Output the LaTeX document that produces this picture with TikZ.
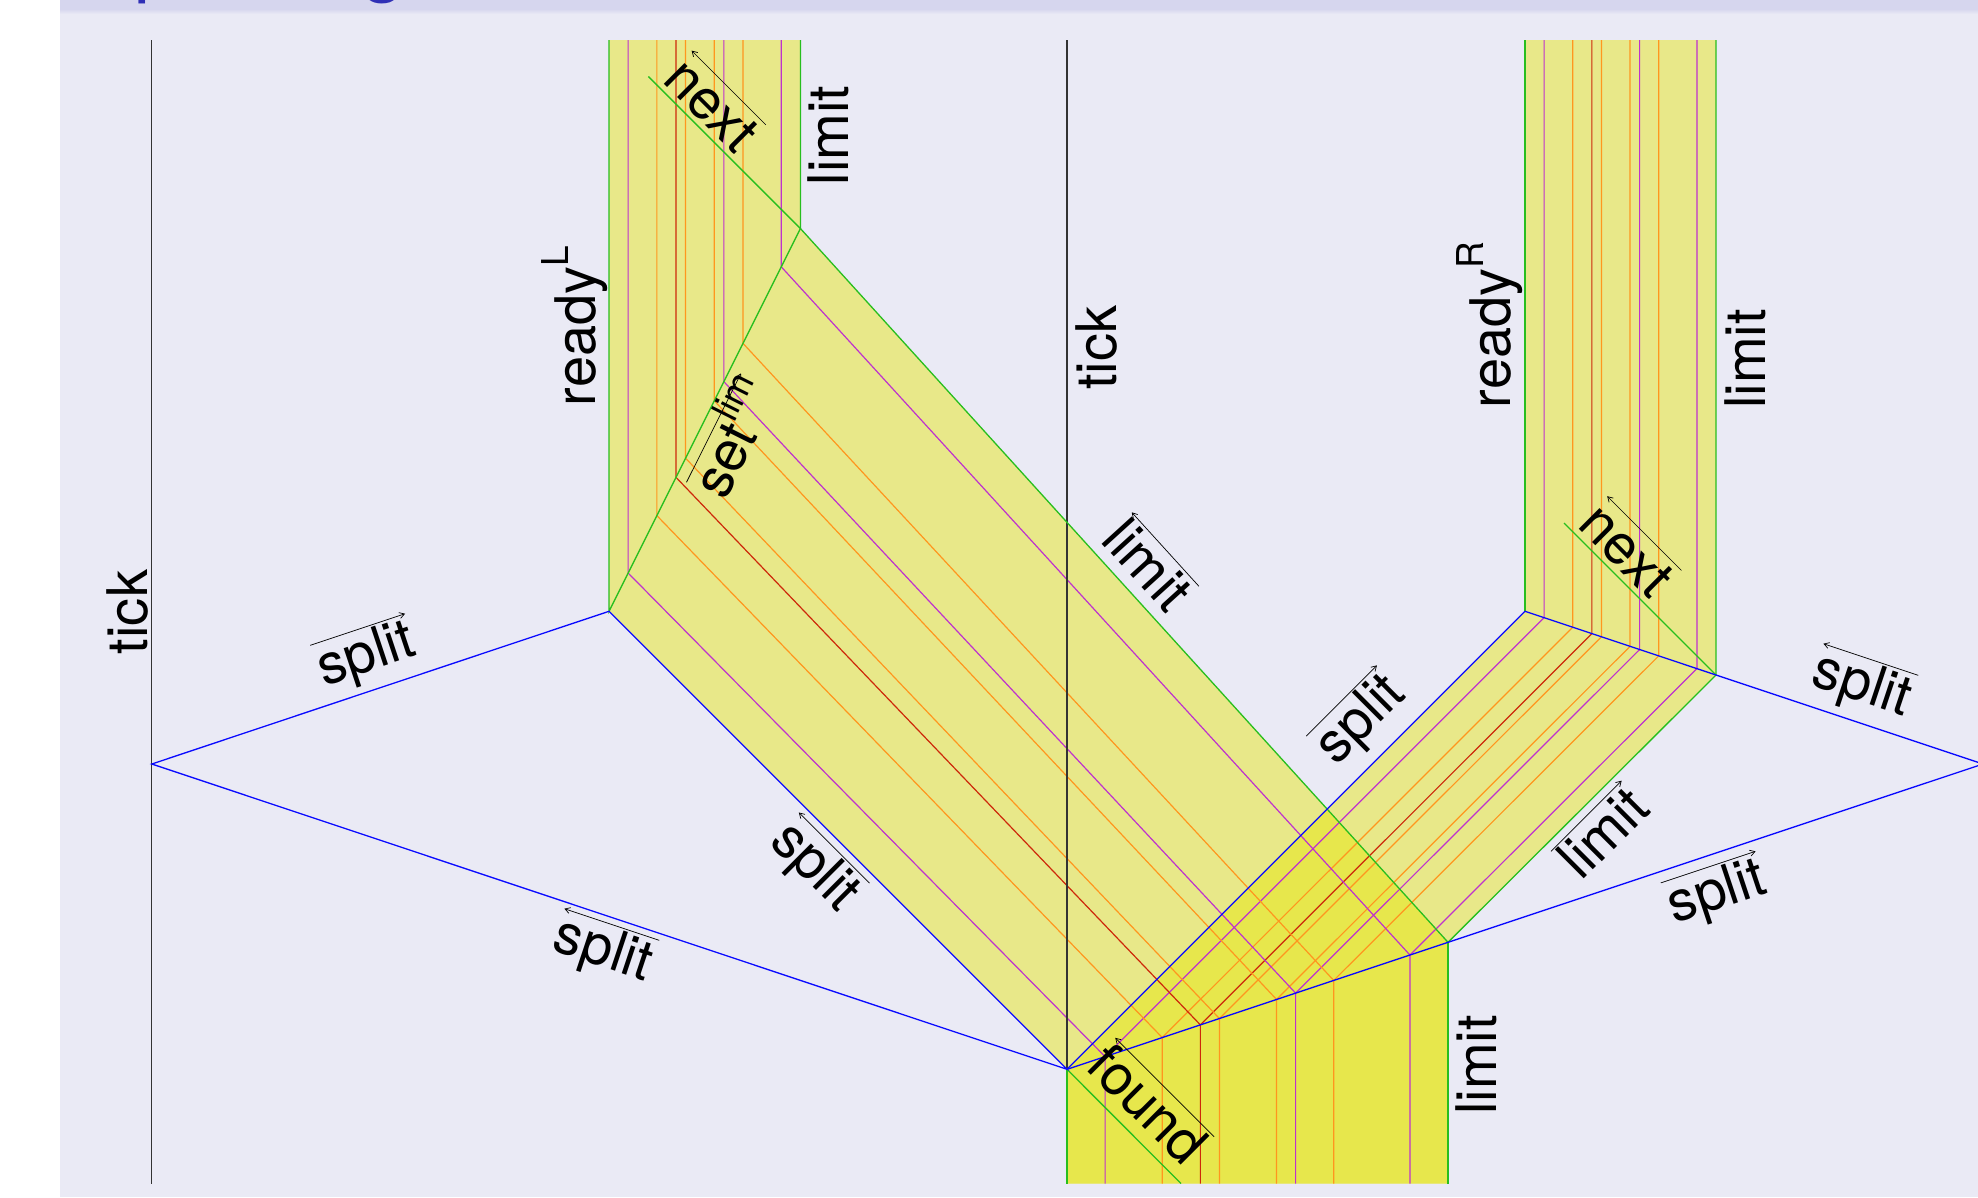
\documentclass[tikz,border=0pt]{standalone}
\usepackage{fontspec}
\setmainfont{TeX Gyre Heros}
\usetikzlibrary{calc,arrows.meta}
\definecolor{bgc}{RGB}{234,234,245}
\definecolor{barc}{RGB}{214,214,238}
\definecolor{ttl}{RGB}{48,48,182}
\definecolor{bandc}{RGB}{230,230,0}
\definecolor{grn}{RGB}{40,190,30}
\definecolor{blu}{RGB}{10,10,255}
\definecolor{mag}{RGB}{190,50,205}
\definecolor{org}{RGB}{255,150,30}
\definecolor{rdc}{RGB}{205,40,10}
\newcommand\rsup[1]{\raisebox{27pt}{\fontsize{37}{40}\selectfont #1}}
\tikzset{
  sig/.style={line width=1.2pt},
  bl/.style={draw=blu,line width=1.3pt},
  gr/.style={draw=grn,line width=1.3pt},
  tickline/.style={draw=black!80,line width=1.1pt},
  band/.style={fill=bandc,fill opacity=0.44},
  lab/.style={font=\fontsize{56}{67}\selectfont,inner sep=0pt,text height=43pt,text depth=12pt},
  vlab/.style={font=\fontsize{56}{67}\selectfont,inner sep=0pt,anchor=base,rotate=90},
  arr/.style={draw=black,line width=0.7pt},
  rarr/.style={arr,-{Straight Barb[length=5pt,width=6pt]}},
  larr/.style={arr,{Straight Barb[length=5pt,width=6pt]}-},
}
\begin{document}
\begin{tikzpicture}[x=1pt,y=-1pt]
\useasboundingbox (0,0) rectangle (1978,1197);
\clip (0,0) rectangle (1978,1197);
% background
\fill[white] (0,0) rectangle (1978,1197);
\fill[bgc] (60,0) rectangle (1978,1197);
\fill[barc] (60,0) rectangle (1978,9);
\shade[top color=barc,bottom color=bgc] (60,9) rectangle (1978,14);
\node[font=\fontsize{80}{90}\selectfont,text=ttl,inner sep=0pt,anchor=base west] (tp) at (134.5,-13.5) {p};
\node[font=\fontsize{80}{90}\selectfont,text=ttl,inner sep=0pt,anchor=base west] (tg) at (361.5,-13.5) {g};
% key points
\coordinate (L) at (151.8,764);
\coordinate (A) at (609,611.3);
\coordinate (V) at (1067,1069.3);
\coordinate (B) at (1525,611.3);
\coordinate (R) at (1983,764);
\coordinate (D) at (800.4,228.5);
\coordinate (E) at (1716,675);
\coordinate (C) at (1448,942.3);
\coordinate (TL) at (609,40);
\coordinate (TLr) at (800.4,40);
\coordinate (TR) at (1525,40);
\coordinate (TRr) at (1716,40);
\coordinate (BL) at (1067,1183.5);
\coordinate (BR) at (1448,1183.5);
\coordinate (NL) at (648.4,76.5);
\coordinate (NR) at (1564,523);
\coordinate (FE) at (1181,1183.5);
% bands
\fill[band] (TL) -- (TLr) -- (D) -- (C) -- (BR) -- (BL) -- (V) -- (A) -- cycle;
\fill[band] (TR) -- (TRr) -- (E) -- (C) -- (BR) -- (BL) -- (V) -- (B) -- cycle;
% signals
\foreach \f/\c in {0.1/mag,0.25/org,0.35/rdc,0.4/org,0.55/org,0.6/mag,0.7/org,0.9/mag}{
  \draw[sig,draw=\c] ($(TL)!\f!(TLr)$) -- ($(A)!\f!(D)$) -- ($(V)!\f!(C)$) -- ($(BL)!\f!(BR)$);
  \draw[sig,draw=\c] ($(TR)!\f!(TRr)$) -- ($(B)!\f!(E)$) -- ($(V)!\f!(C)$);
}
% ticks
\draw[tickline] (151.8,40) -- (151.8,1183.5);
\draw[tickline] (1067,40) -- (V);
% green borders
\draw[gr] (TL) -- (A) -- (D) -- (TLr);
\draw[gr] (D) -- (C);
\draw[gr] (NL) -- (D);
\draw[gr] (TR) -- (B);
\draw[gr] (TRr) -- (E) -- (C);
\draw[gr] (NR) -- (E);
\draw[gr] (V) -- (BL);
\draw[gr] (C) -- (BR);
\draw[gr] (V) -- (FE);
% blue split lines
\draw[bl] (L) -- (A) -- (V) -- cycle;
\draw[bl] (B) -- (V);
\draw[bl] (B) -- (R) -- (V);
% sloped labels
\node[lab,rotate=18.43,anchor=mid] (sa) at (370.5,668) {split};
\draw[rarr] (sa.north west) -- (sa.north east);
\node[lab,rotate=-18.43,anchor=mid] (sb) at (599,963) {split};
\draw[larr] (sb.north west) -- (sb.north east);
\node[lab,rotate=-45,anchor=mid] (sc) at (805.5,876.5) {split};
\draw[larr] (sc.north west) -- (sc.north east);
\node[lab,rotate=45,anchor=mid] (sd) at (1370.3,729.4) {split};
\draw[rarr] (sd.north west) -- (sd.north east);
\node[lab,rotate=-18.43,anchor=mid] (se) at (1858,698) {split};
\draw[larr] (se.north west) -- (se.north east);
\node[lab,rotate=18.43,anchor=mid] (sf) at (1721,905.6) {split};
\draw[rarr] (sf.north west) -- (sf.north east);
\node[lab,rotate=-47.75,anchor=mid] (lg) at (1135.3,576.6) {limit};
\draw[larr] (lg.north west) -- (lg.north east);
\node[lab,rotate=45,anchor=mid] (lh) at (1615,844.7) {limit};
\draw[rarr] (lh.north west) -- (lh.north east);
\node[lab,rotate=-45,anchor=mid] (nxl) at (700,116.4) {next};
\draw[larr] (nxl.north west) -- (nxl.north east);
\node[lab,rotate=-45,anchor=mid] (nxr) at (1615.6,562) {next};
\draw[larr] (nxr.north west) -- (nxr.north east);
\node[lab,rotate=63.43,anchor=mid] (sl) at (750,446) {set\rsup{lim}};
\draw[rarr] (sl.north west) -- (sl.north east);
\node[lab,rotate=-45,anchor=mid] (fd) at (1136,1116) {found};
\draw[larr] (fd.north west) -- (fd.north east);
% vertical labels
\node[vlab] (tk1) at (147,612) {tick};
\node[vlab] (tk2) at (1116,347.5) {tick};
\node[vlab] (rl) at (595,326) {ready\rsup{L}};
\node[vlab] (rr) at (1510,325) {ready\rsup{R}};
\node[vlab] (li) at (848,135.6) {limit};
\node[vlab] (lj) at (1765,359) {limit};
\node[vlab] (lk) at (1496,1064.8) {limit};
\end{tikzpicture}
\end{document}
